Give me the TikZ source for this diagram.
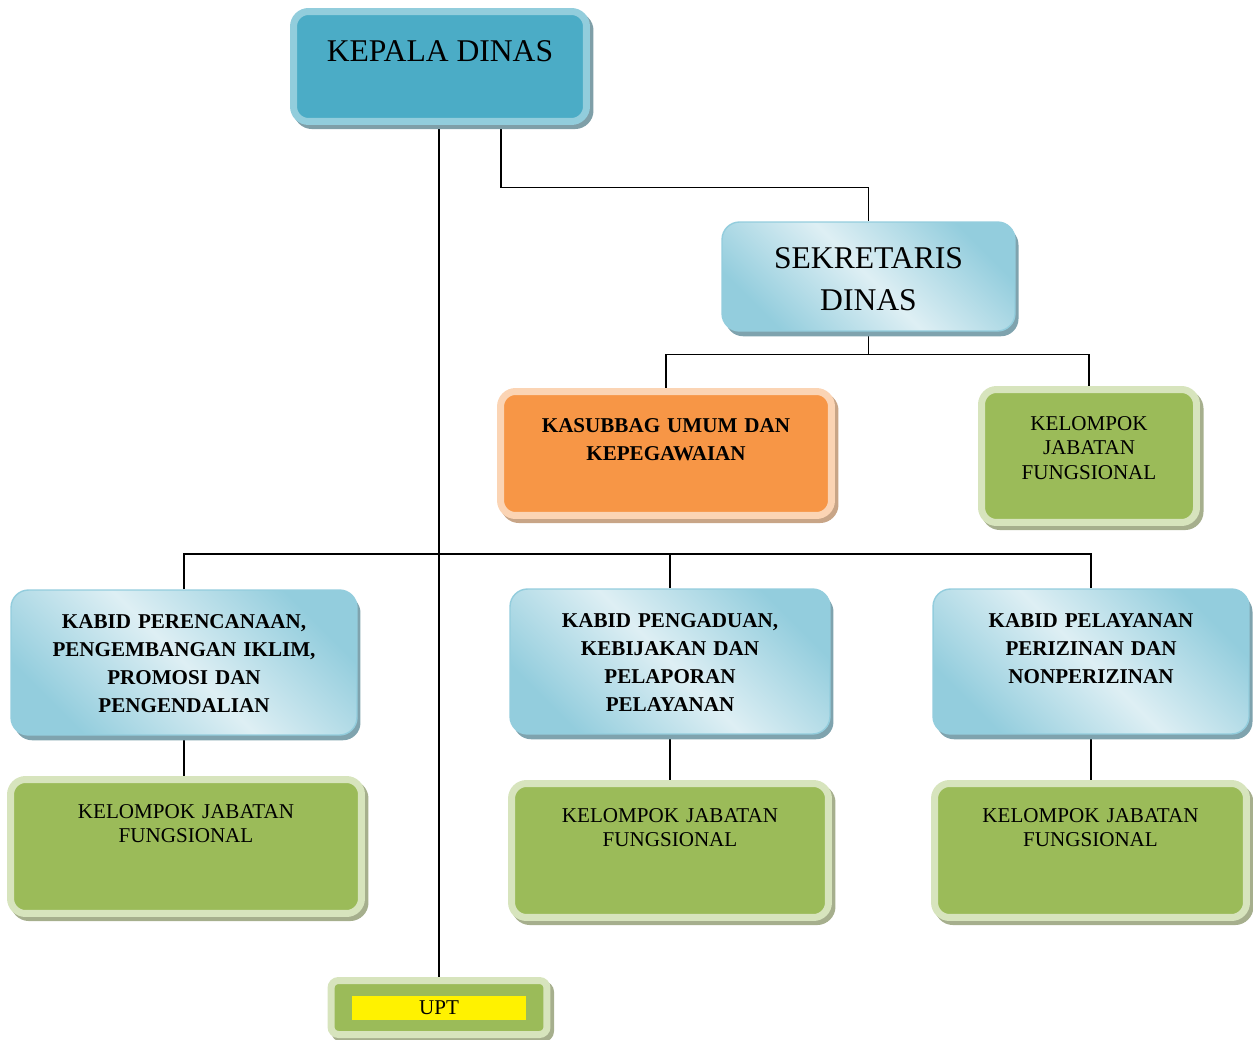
\documentclass[tikz,border=0pt]{standalone}
\usepackage{fontspec}
\setmainfont{Liberation Serif}
\usetikzlibrary{calc,backgrounds}

\definecolor{kepfill}{HTML}{4BACC6}
\definecolor{kepband}{HTML}{92CDDC}
\definecolor{kepshadow}{HTML}{7F9FA8}
\definecolor{bluedark}{HTML}{93CDDD}
\definecolor{bluelight}{HTML}{DEEFF4}
\definecolor{blueshadow}{HTML}{7FA3AE}
\definecolor{orangefill}{HTML}{F79646}
\definecolor{orangeband}{HTML}{FBD4B4}
\definecolor{orangeshadow}{HTML}{C8A587}
\definecolor{greenfill}{HTML}{9BBB59}
\definecolor{greenband}{HTML}{D7E4BD}
\definecolor{greenshadow}{HTML}{A6AF8D}

\begin{document}
\begin{tikzpicture}[x=0.02cm, y=-0.02cm,
    conn/.style={line width=0.9pt},
    bandbox/.style n args={3}{rounded corners=0.3cm, draw=#2, fill=#1, line width=0.14cm,
      preaction={draw=#3, fill=#3, line width=0.14cm, transform canvas={shift={(2pt,-2.3pt)}}},
      inner sep=0pt, align=center},
    kepalabox/.style={bandbox={kepfill}{kepband}{kepshadow}},
    orangebox/.style={bandbox={orangefill}{orangeband}{orangeshadow}},
    greenbox/.style={bandbox={greenfill}{greenband}{greenshadow}},
    bluebox/.style={rounded corners=0.35cm, draw=bluedark, line width=0.8pt,
      top color=bluedark, bottom color=bluedark, middle color=bluelight, shading angle=-45,
      preaction={fill=blueshadow, transform canvas={shift={(2pt,-3pt)}}},
      inner sep=0pt, align=center},
    bigtext/.style={font=\fontsize{18}{24}\selectfont},
    kabidtext/.style={font=\bfseries\fontsize{12}{16.1}\selectfont, text height=0.76cm, text depth=2.14cm},
    jafungtext/.style={font=\fontsize{12}{14.2}\selectfont, text height=0.77cm, text depth=1.91cm}]
  \useasboundingbox (0,0) rectangle (1253,1040);

  % top
  \node[kepalabox, bigtext, minimum width=5.86cm, text height=1.01cm, text depth=1.19cm] (kepala) at (440,66.5) {KEPALA DINAS};
  \node[bluebox, bigtext, text width=5.86cm, text height=0.92cm, text depth=1.26cm] (sekretaris) at (868.5,276.5) {SEKRETARIS\\DINAS};
  \node[orangebox, font=\bfseries\fontsize{12}{16}\selectfont, text width=6.62cm, text height=0.81cm, text depth=1.67cm] (kasubbag) at (666,453.5) {KASUBBAG UMUM DAN\\KEPEGAWAIAN};
  \node[greenbox, font=\fontsize{12}{14}\selectfont, text width=4.3cm, text height=0.81cm, text depth=1.85cm] (jafung) at (1089,456) {KELOMPOK\\JABATAN\\FUNGSIONAL};

  % bidang
  \node[bluebox, kabidtext, text width=6.92cm] (kabidrenc) at (184,662.5) {KABID PERENCANAAN,\\PENGEMBANGAN IKLIM,\\PROMOSI DAN\\PENGENDALIAN};
  \node[bluebox, kabidtext, text width=6.4cm] (kabidaduan) at (670,661.5) {KABID PENGADUAN,\\KEBIJAKAN DAN\\PELAPORAN\\PELAYANAN};
  \node[bluebox, kabidtext, text width=6.32cm] (kabidlayan) at (1091,661.5) {KABID PELAYANAN\\PERIZINAN DAN\\NONPERIZINAN};

  \node[greenbox, jafungtext, text width=7.02cm] (jafungrenc) at (186,846.5) {KELOMPOK JABATAN\\FUNGSIONAL};
  \node[greenbox, jafungtext, text width=6.34cm] (jafungaduan) at (670,850.5) {KELOMPOK JABATAN\\FUNGSIONAL};
  \node[greenbox, jafungtext, text width=6.24cm] (jafunglayan) at (1090.5,850.5) {KELOMPOK JABATAN\\FUNGSIONAL};

  \node[greenbox, rounded corners=0.15cm, minimum width=4.32cm, minimum height=1.08cm, font=\fontsize{12}{14}\selectfont] (upt) at (439,1007.5) {\setlength{\fboxsep}{0pt}\colorbox{yellow}{\parbox[c][0.48cm]{3.5cm}{\centering UPT}}};

  \begin{scope}[on background layer]
    \draw[conn] (upt.north) -- (upt.north |- kepala.south);
    \draw[conn] ($(kepala.south)+(61,0)$) -- ++(0,62.5) -| (sekretaris.north);
    \draw[conn] (sekretaris.south) -- ++(0,23) coordinate (sekbus);
    \draw[conn] (kasubbag.north) |- (sekbus) -| (jafung.north);
    \coordinate (bus) at (438,554);
    \draw[conn] (kabidrenc.north) |- (bus) -| (kabidlayan.north);
    \draw[conn] (kabidaduan.north) -- (kabidaduan.north |- bus);
    \draw[conn] (kabidrenc.south) -- (kabidrenc.south |- jafungrenc.north);
    \draw[conn] (kabidaduan.south) -- (jafungaduan.north);
    \draw[conn] (kabidlayan.south) -- (kabidlayan.south |- jafunglayan.north);
  \end{scope}
\end{tikzpicture}
\end{document}
